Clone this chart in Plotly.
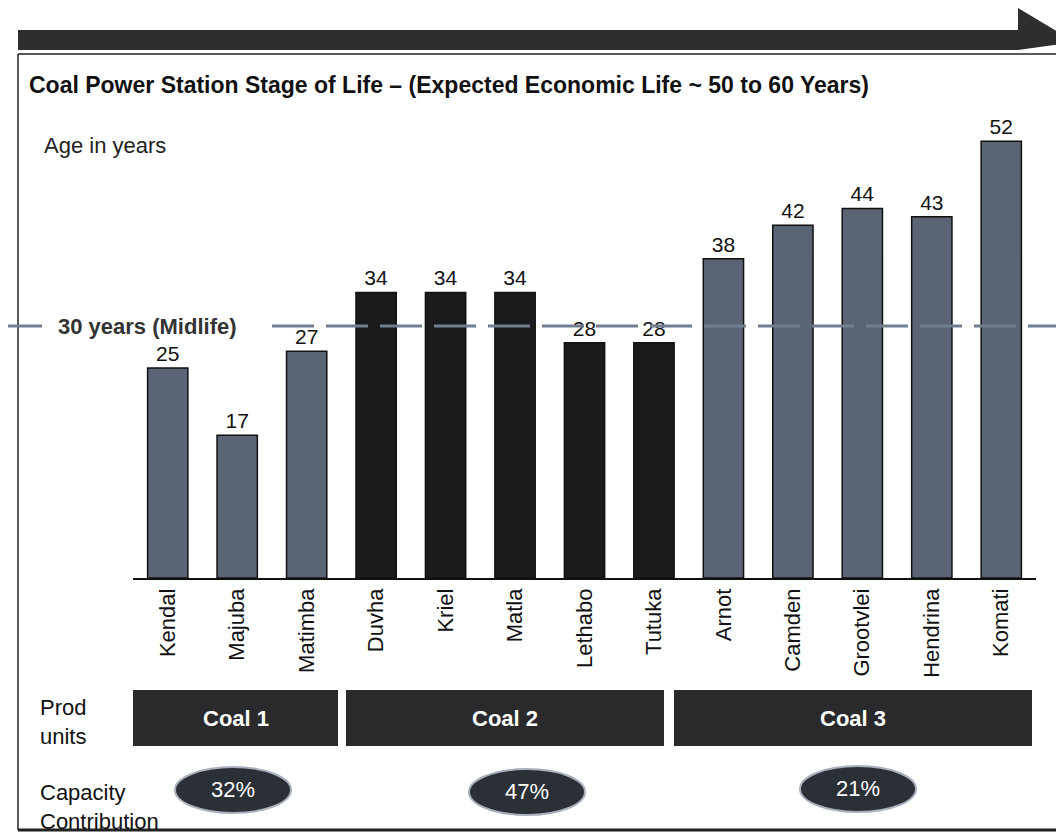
import plotly.graph_objects as go

W, H = 1056, 835

stations = ["Kendal", "Majuba", "Matimba", "Duvha", "Kriel", "Matla", "Lethabo",
            "Tutuka", "Arnot", "Camden", "Grootvlei", "Hendrina", "Komati"]
ages = [25, 17, 27, 34, 34, 34, 28, 28, 38, 42, 44, 43, 52]
units = ["Coal 1", "Coal 1", "Coal 1", "Coal 2", "Coal 2", "Coal 2", "Coal 2",
         "Coal 2", "Coal 3", "Coal 3", "Coal 3", "Coal 3", "Coal 3"]
unit_names = ["Coal 1", "Coal 2", "Coal 3"]
capacity = ["32%", "47%", "21%"]
midlife = 30

unit_colors = {"Coal 1": "#5b6474", "Coal 2": "#1b1b1d", "Coal 3": "#5b6474"}
FONT = "Liberation Sans, Arial"


def px(x):
    return x / W


def py(y):
    return 1 - y / H


fig = go.Figure()
fig.add_trace(go.Bar(
    x=stations, y=ages,
    marker=dict(color=[unit_colors[u] for u in units],
                line=dict(color="#111111", width=1.5)),
    width=0.58,
    text=[str(a) for a in ages], textposition="outside",
    textfont=dict(family=FONT, size=21, color="#111111"),
    cliponaxis=False, showlegend=False,
))

ymax = 56
y_bottom_px = 578
scale = 8.4
y_top_px = y_bottom_px - ymax * scale

shapes = []
annotations = []


def note(x, y, text, size=22, color="#111", xanchor="left", yref="paper", align="left"):
    annotations.append(dict(x=x, y=y, xref="paper", yref=yref, xanchor=xanchor,
                            yanchor="middle", showarrow=False, align=align, text=text,
                            font=dict(family=FONT, size=size, color=color)))


# Top banner arrow
path = (f"M {px(18)},{py(30)} L {px(1018)},{py(30)} L {px(1018)},{py(8)} "
        f"L {px(1075)},{py(42)} L {px(1018)},{py(50)} L {px(18)},{py(50)} Z")
shapes.append(dict(type="path", path=path, xref="paper", yref="paper",
                   fillcolor="#2e2e30", line=dict(width=0), layer="above"))

# Frame
shapes.append(dict(type="line", xref="paper", yref="paper", x0=px(18), x1=px(1056),
                   y0=py(54), y1=py(54), line=dict(color="#222", width=1.5)))
shapes.append(dict(type="line", xref="paper", yref="paper", x0=px(18), x1=px(18),
                   y0=py(54), y1=py(830), line=dict(color="#222", width=1.5)))
shapes.append(dict(type="line", xref="paper", yref="paper", x0=px(18), x1=px(1056),
                   y0=py(830), y1=py(830), line=dict(color="#222", width=3)))

# Midlife dashed line
shapes.append(dict(type="line", xref="paper", yref="y", x0=px(8), x1=px(42),
                   y0=midlife, y1=midlife, line=dict(color="#6f7f90", width=3)))
shapes.append(dict(type="line", xref="paper", yref="y", x0=px(272), x1=px(1056),
                   y0=midlife, y1=midlife,
                   line=dict(color="#6f7f90", width=3, dash="42px,12px"), layer="above"))
note(px(56), midlife, "<b>30 years (Midlife)</b>", size=22, color="#333", yref="y")

# Title and axis caption
note(px(27), py(85),
     "<b>Coal Power Station Stage of Life – (Expected Economic Life ~ 50 to 60 Years)</b>",
     size=23)
note(px(42), py(145), "Age in years", size=22, color="#222")

# Prod units boxes
boxes = [(133, 338), (346, 664), (674, 1032)]
for (x0, x1), name in zip(boxes, unit_names):
    shapes.append(dict(type="rect", xref="paper", yref="paper", x0=px(x0), x1=px(x1),
                       y0=py(690), y1=py(746), fillcolor="#2a2a2c", line=dict(width=0)))
    note(px((x0 + x1) / 2), py(718), f"<b>{name}</b>", size=22, color="white",
         xanchor="center", align="center")
note(px(38), py(722), "Prod<br>units", size=22)

# Capacity ellipses
ell = [(233, 790), (527, 792), (858, 789)]
for (cx, cy), val in zip(ell, capacity):
    shapes.append(dict(type="circle", xref="paper", yref="paper", x0=px(cx - 58), x1=px(cx + 58),
                       y0=py(cy + 23), y1=py(cy - 23), fillcolor="#2b2f36",
                       line=dict(color="#a8b0bc", width=2)))
    note(px(cx), py(cy - 1), val, size=22, color="white", xanchor="center", align="center")
note(px(38), py(807), "Capacity<br>Contribution", size=22)

fig.update_layout(
    width=W, height=H, margin=dict(l=0, r=0, t=0, b=0),
    paper_bgcolor="white", plot_bgcolor="white",
    xaxis=dict(domain=[px(133), px(1036)], range=[-0.5, len(stations) - 0.5],
               tickangle=-90, showline=True, linecolor="#111", linewidth=1.5,
               ticks="", showgrid=False, zeroline=False,
               tickfont=dict(family=FONT, size=22, color="#111")),
    yaxis=dict(domain=[py(y_bottom_px), py(y_top_px)], range=[0, ymax],
               visible=False, showgrid=False, zeroline=False),
    shapes=shapes, annotations=annotations,
)

fig.write_html("out.html", config={"displayModeBar": False},
               post_script="document.body.style.margin='0';document.body.style.overflow='hidden';")
